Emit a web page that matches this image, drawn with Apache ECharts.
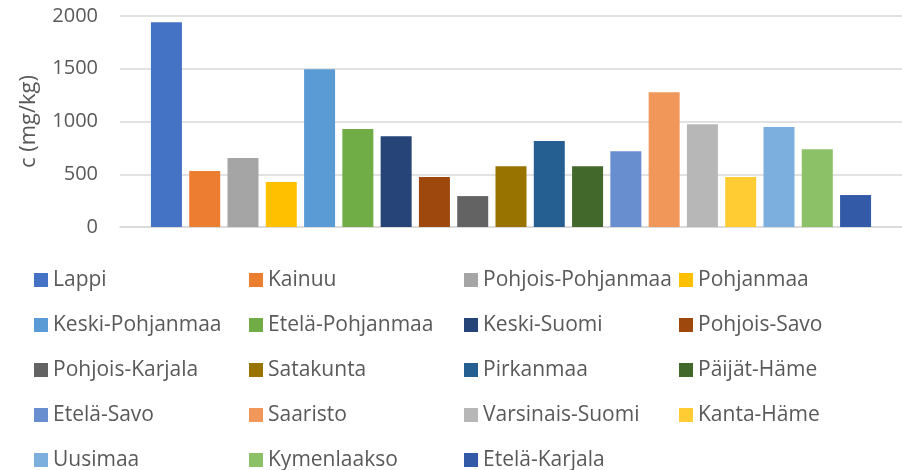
<!DOCTYPE html>
<html>
<head>
<meta charset="utf-8">
<script src="https://cdn.jsdelivr.net/npm/echarts@6/dist/echarts.min.js"></script>
<style>
  html, body { margin: 0; padding: 0; background: #fff; }
  #main { width: 902px; height: 470px; }
</style>
</head>
<body>
<div id="main"></div>
<script>
  // alueet (sarjat) järjestyksessä
  var regions = ['Lappi', 'Kainuu', 'Pohjois-Pohjanmaa', 'Pohjanmaa',
    'Keski-Pohjanmaa', 'Etelä-Pohjanmaa', 'Keski-Suomi', 'Pohjois-Savo',
    'Pohjois-Karjala', 'Satakunta', 'Pirkanmaa', 'Päijät-Häme',
    'Etelä-Savo', 'Saaristo', 'Varsinais-Suomi', 'Kanta-Häme',
    'Uusimaa', 'Kymenlaakso', 'Etelä-Karjala'];
  var values = [1940, 530, 653, 426, 1495, 928, 861, 473, 293, 577,
    814, 577, 719, 1278, 975, 473, 947, 738, 303];
  var colors = ['#4472C4', '#ED7D31', '#A5A5A5', '#FFC000', '#5B9BD5',
    '#70AD47', '#264478', '#9E480E', '#636363', '#997300', '#255E91',
    '#43682B', '#698ED0', '#F1975A', '#B7B7B7', '#FFCD33', '#7CAFDD',
    '#8CC168', '#335AA6'];
  var yTicks = [0, 500, 1000, 1500, 2000];

  var font = '"Open Sans", "DejaVu Sans", sans-serif';
  var grey = '#595959';

  var myChart = echarts.init(document.getElementById('main'));

  var series = regions.map(function (name, i) {
    return {
      name: name,
      type: 'bar',
      barWidth: 31,
      barGap: '23.5%',
      itemStyle: { color: colors[i] },
      data: [values[i]]
    };
  });

  var option = {
    animation: false,
    legend: {
      left: 34,
      top: 258,
      width: 868,
      padding: 0,
      icon: 'rect',
      itemWidth: 14,
      itemHeight: 14,
      itemGap: 1,
      selectedMode: false,
      // kiinteä tekstin leveys -> neljä tasaista saraketta
      textStyle: {
        color: grey, fontSize: 21, fontFamily: font,
        lineHeight: 44, width: 195, overflow: 'none'
      },
      data: regions
    },
    grid: { left: 120, right: -3, top: 16, bottom: 243 },
    xAxis: {
      type: 'category',
      data: [''],
      axisLine: { show: true, lineStyle: { color: '#d9d9d9', width: 1.5 } },
      axisTick: { show: false },
      axisLabel: { show: false }
    },
    yAxis: {
      type: 'value',
      min: yTicks[0],
      max: yTicks[yTicks.length - 1],
      interval: 500,
      name: 'c (mg/kg)',
      nameLocation: 'middle',
      nameGap: 80,
      nameTextStyle: { color: grey, fontSize: 22, fontFamily: font },
      axisLine: { show: false },
      axisTick: { show: false },
      axisLabel: {
        color: grey, fontSize: 20, fontFamily: font, margin: 22,
        formatter: function (v) { return String(v); }
      },
      splitLine: { lineStyle: { color: '#d9d9d9', width: 1.5 } }
    },
    series: series
  };
  myChart.setOption(option);
  window.addEventListener('resize', () => { myChart.resize(); });
</script>
</body>
</html>
